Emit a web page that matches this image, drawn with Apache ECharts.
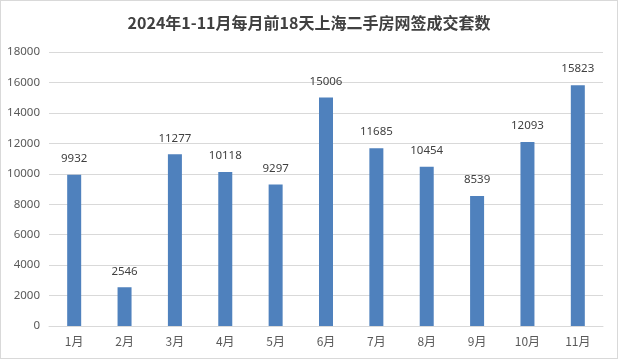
<!DOCTYPE html>
<html><head><meta charset="utf-8">
<script src="https://cdn.jsdelivr.net/npm/echarts@6/dist/echarts.min.js"></script>
<style>html,body{margin:0;padding:0;background:#fff}#c{width:616px;height:357px;border:1px solid #d9d9d9}</style>
</head><body><div id="c"></div>
<script>
const categories = ['1月','2月','3月','4月','5月','6月','7月','8月','9月','10月','11月'];
const values = [9932,2546,11277,10118,9297,15006,11685,10454,8539,12093,15823];
const titleText = '2024年1-11月每月前18天上海二手房网签成交套数';
const chart = echarts.init(document.getElementById('c'));
chart.setOption({
  animation:false,
  title:{text:titleText,left:'center',top:9,textStyle:{fontFamily:'Noto Sans CJK SC',fontSize:16,fontWeight:'bold',color:'#404040'}},
  grid:{left:48,right:14,top:51,bottom:32,containLabel:false},
  xAxis:{type:'category',data:categories,axisTick:{show:false},
    axisLine:{lineStyle:{color:'#d9d9d9'}},
    axisLabel:{color:'#595959',fontSize:12,fontFamily:'Noto Sans CJK SC',margin:9}},
  yAxis:{type:'value',min:0,max:18000,interval:2000,
    axisLine:{show:false},axisTick:{show:false},
    splitLine:{lineStyle:{color:'#d9d9d9'}},
    axisLabel:{color:'#595959',fontSize:11.5,fontFamily:'Noto Sans',margin:9,formatter:v=>String(v)}},
  series:[{type:'bar',data:values,barWidth:14,itemStyle:{color:'#4f81bd'},
    label:{show:true,position:'top',distance:10,color:'#404040',fontSize:11.5,fontFamily:'Noto Sans'}}]
});
</script></body></html>
